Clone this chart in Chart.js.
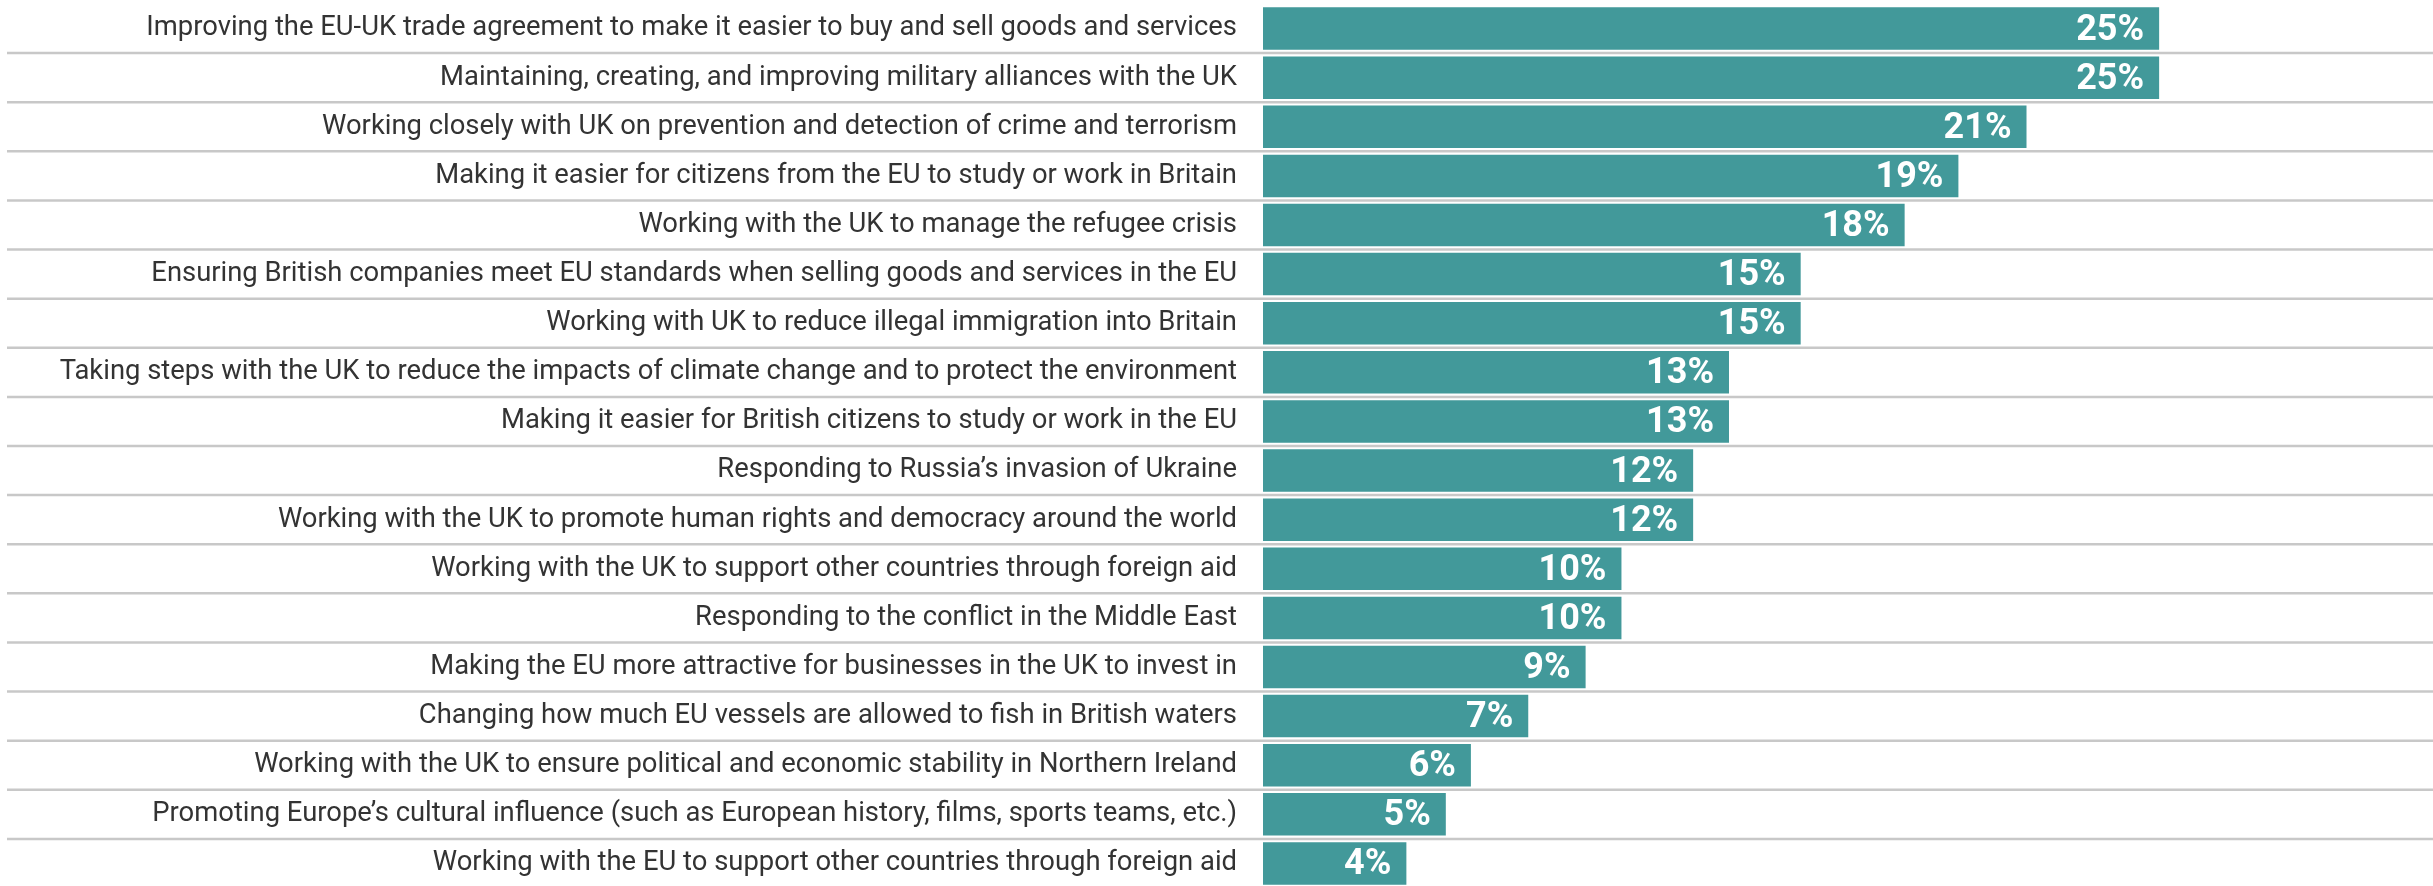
<!DOCTYPE html>
<html>
<head>
<meta charset="utf-8">
<script src="https://cdn.jsdelivr.net/npm/chart.js@4"></script>
<style>
  html, body { margin: 0; padding: 0; background: #fff; overflow: hidden; }
  .wrap { position: relative; width: 2433px; height: 888px; }
</style>
</head>
<body>
<div class="wrap"><canvas id="barchart"></canvas></div>
<script>
const categories = [
  'Improving the EU-UK trade agreement to make it easier to buy and sell goods and services',
  'Maintaining, creating, and improving military alliances with the UK',
  'Working closely with UK on prevention and detection of crime and terrorism',
  'Making it easier for citizens from the EU to study or work in Britain',
  'Working with the UK to manage the refugee crisis',
  'Ensuring British companies meet EU standards when selling goods and services in the EU',
  'Working with UK to reduce illegal immigration into Britain',
  'Taking steps with the UK to reduce the impacts of climate change and to protect the environment',
  'Making it easier for British citizens to study or work in the EU',
  'Responding to Russia’s invasion of Ukraine',
  'Working with the UK to promote human rights and democracy around the world',
  'Working with the UK to support other countries through foreign aid',
  'Responding to the conflict in the Middle East',
  'Making the EU more attractive for businesses in the UK to invest in',
  'Changing how much EU vessels are allowed to fish in British waters',
  'Working with the UK to ensure political and economic stability in Northern Ireland',
  'Promoting Europe’s cultural influence (such as European history, films, sports teams, etc.)',
  'Working with the EU to support other countries through foreign aid'
];
const values = [25.0, 25.0, 21.3, 19.4, 17.9, 15.0, 15.0, 13.0, 13.0, 12.0, 12.0, 10.0, 10.0, 9.0, 7.4, 5.8, 5.1, 4.0];
const valueLabels = ['25%', '25%', '21%', '19%', '18%', '15%', '15%', '13%', '13%', '12%', '12%', '10%', '10%', '9%', '7%', '6%', '5%', '4%'];

// row separators run across the whole width, labels included
const rowLines = {
  id: 'rowLines',
  beforeDatasetsDraw(chart) {
    const c = chart.ctx;
    const y = chart.scales.y;
    c.save();
    c.strokeStyle = '#c8c8c8';
    c.lineWidth = 2.5;
    for (let i = 1; i < categories.length; i++) {
      const py = (y.getPixelForTick(i - 1) + y.getPixelForTick(i)) / 2;
      c.beginPath();
      c.moveTo(7, py);
      c.lineTo(chart.width, py);
      c.stroke();
    }
    c.restore();
  }
};

const barValues = {
  id: 'barValues',
  afterDatasetsDraw(chart) {
    const c = chart.ctx;
    c.save();
    c.fillStyle = '#ffffff';
    c.font = 'bold 36px Roboto';
    c.textAlign = 'right';
    c.textBaseline = 'middle';
    chart.getDatasetMeta(0).data.forEach((bar, i) => {
      c.fillText(valueLabels[i], bar.x - 15, bar.y + 2);
    });
    c.restore();
  }
};

const ctx = document.getElementById('barchart');

new Chart(ctx, {
  type: 'bar',
  data: {
    labels: categories,
    datasets: [{
      data: values,
      backgroundColor: '#42999a',
      borderWidth: 0,
      barPercentage: 0.865,
      categoryPercentage: 1
    }]
  },
  options: {
    indexAxis: 'y',
    responsive: true,
    maintainAspectRatio: false,
    animation: false,
    layout: { padding: { top: 4, right: 0, bottom: 0, left: 0 } },
    plugins: {
      legend: { display: false },
      tooltip: { enabled: false }
    },
    scales: {
      x: {
        display: false,
        min: 0,
        max: 32.64
      },
      y: {
        afterFit(scale) {
          scale.width = 1263;
          scale.paddingTop = 0;
          scale.paddingBottom = 0;
        },
        border: { display: false },
        grid: { display: false, drawTicks: false },
        ticks: {
          padding: 26,
          color: '#333333',
          font: { family: 'Roboto', size: 27.4 }
        }
      }
    }
  },
  plugins: [rowLines, barValues]
});
</script>
</body>
</html>
